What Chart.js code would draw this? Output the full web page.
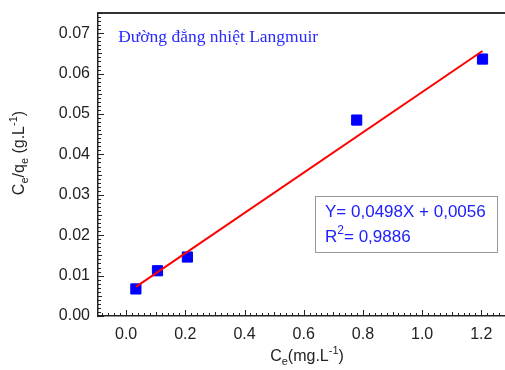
<!DOCTYPE html>
<html>
<head>
<meta charset="utf-8">
<script src="https://cdn.jsdelivr.net/npm/chart.js@4/dist/chart.umd.min.js"></script>
<style>
html,body{margin:0;padding:0;background:#fff;}
canvas{display:block;}
</style>
</head>
<body>
<canvas id="c" width="505" height="370"></canvas>
<script>
// Data
const ceValues = [0.033, 0.106, 0.207, 0.779, 1.204];
const ceQeValues = [0.0067, 0.0112, 0.0146, 0.0485, 0.0636];
const fitX = [0.033, 1.204];
const fitY = [0.0072, 0.0656];
const xTickValues = [0.0, 0.2, 0.4, 0.6, 0.8, 1.0, 1.2];
const yTickValues = [0.00, 0.01, 0.02, 0.03, 0.04, 0.05, 0.06, 0.07];
const titleText = 'Đường đẳng nhiệt Langmuir';
const equationText = 'Y= 0,0498X + 0,0056';
const r2Value = '0,9886';

const SANS = '"Liberation Sans", Arial, sans-serif';
const SERIF = '"Liberation Serif", "Times New Roman", serif';

function drawRich(ctx, segs, x, y, align, size, color) {
  const small = Math.round(size * 0.68);
  let total = 0;
  const widths = segs.map(([t, k]) => {
    ctx.font = (k === 'n' ? size : small) + 'px ' + SANS;
    const w = ctx.measureText(t).width;
    total += w;
    return w;
  });
  let cx = align === 'center' ? x - total / 2 : x;
  ctx.fillStyle = color;
  ctx.textBaseline = 'middle';
  ctx.textAlign = 'left';
  segs.forEach(([t, k], i) => {
    ctx.font = (k === 'n' ? size : small) + 'px ' + SANS;
    let dy = 0;
    if (k === 'sub') dy = size * 0.32;
    if (k === 'sup') dy = -size * 0.38;
    ctx.fillText(t, cx, y + dy);
    cx += widths[i];
  });
}

const decorPlugin = {
  id: 'decor',
  afterDraw(chart) {
    const ctx = chart.ctx;
    const xs = chart.scales.x, ys = chart.scales.y;
    const a = chart.chartArea;
    ctx.save();
    // top border
    ctx.strokeStyle = '#333';
    ctx.lineWidth = 2;
    ctx.beginPath();
    ctx.moveTo(a.left, a.top);
    ctx.lineTo(a.right, a.top);
    ctx.stroke();

    // inward ticks
    ctx.strokeStyle = '#222';
    ctx.lineWidth = 1;
    ctx.beginPath();
    for (let i = -4; i <= 64; i++) {
      const v = i * 0.02;
      if (v < xs.min || v > xs.max) continue;
      const px = Math.round(xs.getPixelForValue(v)) + 0.5;
      const major = i % 10 === 0;
      const len = major ? 6 : (i % 5 === 0 ? 4 : 3);
      ctx.moveTo(px, a.bottom);
      ctx.lineTo(px, a.bottom - len);
    }
    for (let i = 0; i <= 75; i++) {
      const v = i * 0.001;
      if (v < ys.min || v > ys.max) continue;
      const py = Math.round(ys.getPixelForValue(v)) + 0.5;
      const major = i % 10 === 0;
      const len = major ? 6 : (i % 5 === 0 ? 4 : 3);
      ctx.moveTo(a.left, py);
      ctx.lineTo(a.left + len, py);
    }
    ctx.stroke();

    // title text
    ctx.font = '17.5px ' + SERIF;
    ctx.fillStyle = '#2a2aff';
    ctx.textBaseline = 'middle';
    ctx.textAlign = 'left';
    ctx.fillText(titleText, xs.getPixelForValue(-0.027), ys.getPixelForValue(0.0690));

    // equation box
    const bx1 = xs.getPixelForValue(0.639), bx2 = xs.getPixelForValue(1.253);
    const by1 = ys.getPixelForValue(0.0297), by2 = ys.getPixelForValue(0.0158);
    ctx.fillStyle = '#fff';
    ctx.fillRect(bx1, by1, bx2 - bx1, by2 - by1);
    ctx.strokeStyle = '#999';
    ctx.lineWidth = 1;
    ctx.strokeRect(Math.round(bx1) + 0.5, Math.round(by1) + 0.5, Math.round(bx2 - bx1), Math.round(by2 - by1));
    const tx = xs.getPixelForValue(0.672);
    drawRich(ctx, [[equationText, 'n']], tx, ys.getPixelForValue(0.0257), 'left', 17, '#2020ff');
    drawRich(ctx, [['R', 'n'], ['2', 'sup'], ['= ' + r2Value, 'n']], tx, ys.getPixelForValue(0.0196), 'left', 17, '#2020ff');

    // axis titles
    drawRich(ctx, [['C', 'n'], ['e', 'sub'], ['(mg.L', 'n'], ['-1', 'sup'], [')', 'n']],
      307, 357, 'center', 16, '#222');
    ctx.save();
    ctx.translate(20, 153);
    ctx.rotate(-Math.PI / 2);
    drawRich(ctx, [['C', 'n'], ['e', 'sub'], ['/q', 'n'], ['e', 'sub'], [' (g.L', 'n'], ['-1', 'sup'], [')', 'n']],
      0, 0, 'center', 16, '#222');
    ctx.restore();
    ctx.restore();
  }
};

new Chart(document.getElementById('c'), {
  data: {
    datasets: [
      {
        type: 'line',
        data: fitX.map((x, i) => ({ x: x, y: fitY[i] })),
        borderColor: '#ff0000',
        borderWidth: 2,
        pointRadius: 0,
        fill: false,
        tension: 0,
        order: 0
      },
      {
        type: 'scatter',
        data: ceValues.map((x, i) => ({ x: x, y: ceQeValues[i] })),
        pointStyle: 'rect',
        pointRadius: 7.2,
        backgroundColor: '#0000ff',
        borderColor: '#0000ff',
        borderWidth: 1,
        order: 1
      }
    ]
  },
  options: {
    responsive: false,
    devicePixelRatio: 1,
    animation: false,
    layout: { autoPadding: false, padding: { left: 0, top: 13, right: 0, bottom: 0 } },
    plugins: { legend: { display: false }, tooltip: { enabled: false } },
    scales: {
      x: {
        type: 'linear',
        min: -0.095,
        max: 1.28,
        afterBuildTicks: s => { s.ticks = xTickValues.map(v => ({ value: v })); },
        afterFit: s => { s.height = 54; s.paddingLeft = 0; s.paddingRight = 0; },
        grid: { drawOnChartArea: false, drawTicks: false },
        border: { display: true, color: '#222', width: 1.5 },
        ticks: {
          padding: 9,
          color: '#222',
          font: { size: 16, family: SANS },
          maxRotation: 0,
          callback: v => v.toFixed(1)
        }
      },
      y: {
        type: 'linear',
        min: 0,
        max: 0.075,
        afterBuildTicks: s => { s.ticks = yTickValues.map(v => ({ value: v })); },
        afterFit: s => { s.width = 98; s.paddingTop = 0; s.paddingBottom = 0; },
        grid: { drawOnChartArea: false, drawTicks: false },
        border: { display: true, color: '#222', width: 1.5 },
        ticks: {
          padding: 8,
          color: '#222',
          font: { size: 16, family: SANS },
          callback: v => v.toFixed(2)
        }
      }
    }
  },
  plugins: [decorPlugin]
});
</script>
</body>
</html>
